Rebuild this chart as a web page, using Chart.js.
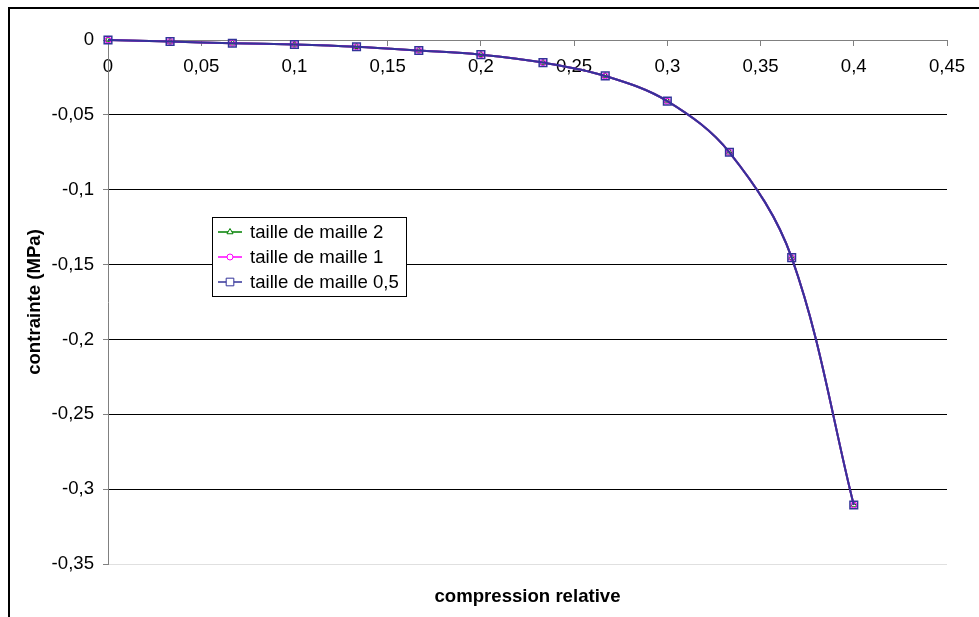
<!DOCTYPE html>
<html>
<head>
<meta charset="utf-8">
<script src="https://cdn.jsdelivr.net/npm/chart.js@4.4.1/dist/chart.umd.min.js"></script>
<style>
html, body { margin: 0; padding: 0; background: #fff; }
</style>
</head>
<body>
<canvas id="chart" width="979" height="617"></canvas>
<script>
// compression relative (x) and contrainte in MPa (y)
const compression = [0, 0.0333, 0.0667, 0.1, 0.1333, 0.1667, 0.2, 0.2333, 0.2667, 0.3, 0.3333, 0.3667, 0.4];
const maille2  = [0, -0.001, -0.0022, -0.003, -0.0045, -0.007, -0.0098, -0.0151, -0.024, -0.0408, -0.075, -0.1454, -0.3106];
const maille1  = [0, -0.001, -0.0022, -0.003, -0.0045, -0.007, -0.0098, -0.0151, -0.024, -0.0408, -0.075, -0.1454, -0.3106];
const maille05 = [0, -0.001, -0.0022, -0.003, -0.0045, -0.007, -0.0098, -0.0151, -0.024, -0.0408, -0.075, -0.1454, -0.3106];

const seriesLabels = ["taille de maille 2", "taille de maille 1", "taille de maille 0,5"];
const xTicks = [0, 0.05, 0.1, 0.15, 0.2, 0.25, 0.3, 0.35, 0.4, 0.45];
const yTicks = [0, -0.05, -0.1, -0.15, -0.2, -0.25, -0.3, -0.35];

const FONT = "'Liberation Sans', Arial, sans-serif";
const FS = 18.6;

function toPoints(ys){
    return compression.map((x, i) => ({x: x, y: ys[i]}));
}

function frFormat(v){
    return (Math.round(v * 100) / 100).toString().replace(".", ",");
}

function drawMarker(ctx, style, r, x, y){
    ctx.beginPath();
    if (style === "triangle") {
        ctx.moveTo(x, y - r);
        ctx.lineTo(x + r * 0.866, y + r * 0.5);
        ctx.lineTo(x - r * 0.866, y + r * 0.5);
        ctx.closePath();
    } else if (style === "circle") {
        ctx.arc(x, y, r, 0, Math.PI * 2);
    } else {
        const s = r * Math.SQRT1_2;
        ctx.rect(x - s, y - s, 2 * s, 2 * s);
    }
    ctx.fill();
    ctx.stroke();
}

// outer frame of the chart (only top and left edges are in the picture)
const framePlugin = {
    id: "frame",
    beforeDraw(chart){
        const ctx = chart.ctx;
        ctx.save();
        ctx.fillStyle = "#000";
        ctx.fillRect(8, 7, 2, 610);
        ctx.fillRect(8, 7, 971, 2);
        ctx.restore();
    }
};

// legend box inside the plot area
const boxLegend = {
    id: "boxLegend",
    afterDraw(chart){
        const ctx = chart.ctx;
        ctx.save();
        ctx.fillStyle = "#fff";
        ctx.fillRect(212.5, 217.5, 194, 79);
        ctx.strokeStyle = "#000";
        ctx.lineWidth = 1;
        ctx.strokeRect(212.5, 217.5, 194, 79);

        ctx.font = FS + "px " + FONT;
        ctx.textBaseline = "middle";
        chart.data.datasets.forEach((ds, i) => {
            const y = 232 + i * 25;
            ctx.strokeStyle = ds.borderColor;
            ctx.lineWidth = 1.5;
            ctx.beginPath();
            ctx.moveTo(218, y);
            ctx.lineTo(242, y);
            ctx.stroke();
            ctx.fillStyle = "#fff";
            ctx.lineWidth = 1;
            drawMarker(ctx, ds.pointStyle, ds.pointRadius, 230, y);
            ctx.fillStyle = "#000";
            ctx.fillText(ds.label, 250, y + 1);
        });
        ctx.restore();
    }
};

new Chart(document.getElementById("chart"), {
    type: "line",
    data: {
        datasets: [
            {
                label: seriesLabels[0],
                data: toPoints(maille2),
                borderColor: "#008000",
                backgroundColor: "rgba(0,0,0,0)",
                pointStyle: "triangle",
                pointRadius: 3.5,
                pointBorderWidth: 1,
                borderWidth: 2,
                tension: 0.35,
                clip: false,
                order: 2
            },
            {
                label: seriesLabels[1],
                data: toPoints(maille1),
                borderColor: "#FF00FF",
                backgroundColor: "rgba(0,0,0,0)",
                pointStyle: "circle",
                pointRadius: 3,
                pointBorderWidth: 1,
                borderWidth: 2,
                tension: 0.35,
                clip: false,
                order: 1
            },
            {
                label: seriesLabels[2],
                data: toPoints(maille05),
                borderColor: "#333399",
                backgroundColor: "rgba(0,0,0,0)",
                pointStyle: "rect",
                pointRadius: 5.4,
                pointBorderWidth: 1.5,
                borderWidth: 2,
                tension: 0.35,
                clip: false,
                order: 0
            }
        ]
    },
    options: {
        responsive: false,
        animation: false,
        devicePixelRatio: 1,
        layout: { padding: { top: 40, right: 32, bottom: 0, left: 0 } },
        plugins: {
            legend: { display: false },
            tooltip: { enabled: false }
        },
        scales: {
            x: {
                type: "linear",
                position: { y: 0 },
                min: 0,
                max: 0.45,
                afterBuildTicks: s => { s.ticks = xTicks.map(v => ({value: v})); },
                ticks: {
                    color: "#000",
                    font: { family: FONT, size: FS },
                    padding: 11,
                    maxRotation: 0,
                    autoSkip: false,
                    callback: v => frFormat(v)
                },
                grid: {
                    drawOnChartArea: false,
                    drawTicks: true,
                    tickLength: 5,
                    color: "#808080"
                },
                border: { color: "#808080", width: 1 }
            },
            xt: {
                type: "linear",
                position: "bottom",
                afterFit: s => { s.height = 53; },
                ticks: { display: false },
                grid: { display: false, drawTicks: false },
                border: { display: false },
                title: {
                    display: true,
                    text: "compression relative",
                    color: "#000",
                    font: { family: FONT, size: FS, weight: "bold" },
                    padding: { top: 0, bottom: 9 }
                }
            },
            y: {
                type: "linear",
                position: "left",
                min: -0.35,
                max: 0,
                afterFit: s => { s.width = 108; },
                afterBuildTicks: s => { s.ticks = yTicks.map(v => ({value: v})); },
                ticks: {
                    color: "#000",
                    font: { family: FONT, size: FS },
                    padding: 9,
                    autoSkip: false,
                    callback: v => frFormat(v)
                },
                grid: {
                    color: ctx => (ctx.tick && ctx.tick.value <= -0.349) ? "#e0e0e0" : "#000",
                    tickColor: "#808080",
                    tickLength: 5,
                    lineWidth: 1
                },
                border: { color: "#808080", width: 1 },
                title: {
                    display: true,
                    text: "contrainte (MPa)",
                    color: "#000",
                    font: { family: FONT, size: FS, weight: "bold" },
                    padding: { top: 24, bottom: 0 }
                }
            }
        }
    },
    plugins: [framePlugin, boxLegend]
});
</script>
</body>
</html>
